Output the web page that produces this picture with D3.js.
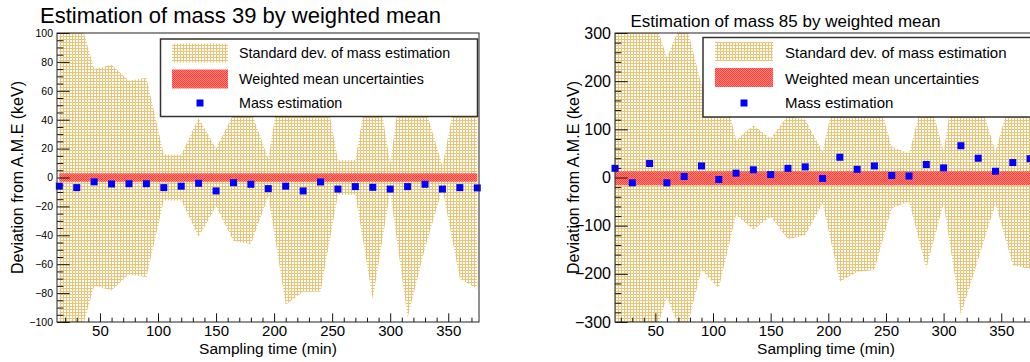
<!DOCTYPE html>
<html><head><meta charset="utf-8">
<script src="https://cdn.jsdelivr.net/npm/d3@7"></script>
<style>
html,body{margin:0;padding:0;background:#fff;}
svg{display:block;font-family:"Liberation Sans",Arial,Helvetica,sans-serif;}
</style></head><body>
<svg id="chart" width="1030" height="362"></svg>
<script>
// ---------- data ----------
const times = [15,30,45,60,75,90,105,120,135,150,165,180,195,210,225,240,255,270,285,300,315,330,345,360,375];

// mass 39 (keV)
const stdDev39 = [130,118,75,78,67,69,16,16,41,20,44,46,13,88,79,79,12,12,84,10,97,49,8,70,77];
const mass39   = [-6,-7,-3,-4.5,-4.3,-4.3,-7,-6,-4,-9.3,-3.6,-4.7,-7.7,-6,-9.3,-3.1,-8,-6.3,-6.8,-8,-6.3,-4.7,-8,-7,-7.2];
const wmUnc39  = [-3, 3];

// mass 85 (keV)
const stdDev85 = [400,380,360,249,335,192,230,78,108,81,128,120,54,216,196,192,64,50,189,54,285,170,54,182,190];
const mass85   = [19,-11,29,-11,2,24,-4,9,16,6,19,22,-2,42,17,24,4,3,27,20,66,40,13,31,39];
const wmUnc85  = [-16, 13];

const xTicksMajor = [50,100,150,200,250,300,350];
const yTicks39 = [-100,-80,-60,-40,-20,0,20,40,60,80,100];
const yTicks85 = [-300,-200,-100,0,100,200,300];

const titles = ["Estimation of mass 39 by weighted mean", "Estimation of mass 85 by weighted mean"];
const legendLabels = ["Standard dev. of mass estimation", "Weighted mean uncertainties", "Mass estimation"];
const xTitle = "Sampling time (min)";
const yTitle = "Deviation from A.M.E (keV)";

// ---------- drawing ----------
const svg = d3.select("#chart");
const defs = svg.append("defs");

const pt = defs.append("pattern").attr("id","tan").attr("patternUnits","userSpaceOnUse").attr("width",3).attr("height",3);
pt.append("rect").attr("width",3).attr("height",3).attr("fill","#e6c47a");
pt.append("rect").attr("x",1).attr("y",1).attr("width",2).attr("height",2).attr("fill","#fffdf6");

const pr = defs.append("pattern").attr("id","red").attr("patternUnits","userSpaceOnUse").attr("width",2).attr("height",2);
pr.append("rect").attr("width",2).attr("height",2).attr("fill","#ff857c");
pr.append("rect").attr("width",1).attr("height",1).attr("fill","#ff4038");
pr.append("rect").attr("x",1).attr("y",1).attr("width",1).attr("height",1).attr("fill","#ff4038");

const panels = [
  {id:"a", std:stdDev39, mass:mass39, wm:wmUnc39, yTicks:yTicks39, yDomain:[-100,100], yMinorStep:5,
   xDomain:[13,376.5], left:57, right:479, top:33, bottom:322, yLabelSize:10.5,
   title:titles[0], titleX:240.5, titleY:23, titleSize:22,
   legend:{x:160.5, y:39, w:317, h:77.5, sx:172, sw:56, tx:239, fs:14.3}, yTitleX:23},
  {id:"b", std:stdDev85, mass:mass85, wm:wmUnc85, yTicks:yTicks85, yDomain:[-300,300], yMinorStep:20,
   xDomain:[15,381], left:615, right:1037, top:33, bottom:322, yLabelSize:16,
   title:titles[1], titleX:785.5, titleY:27, titleSize:17,
   legend:{x:703, y:37.5, w:340, h:79.5, sx:715, sw:58, tx:785, fs:15}, yTitleX:579}
];

function drawPanel(p){
  const x = d3.scaleLinear().domain(p.xDomain).range([p.left,p.right]);
  const y = d3.scaleLinear().domain(p.yDomain).range([p.bottom,p.top]);
  const g = svg.append("g");
  const clipId = "clip"+p.id;
  defs.append("clipPath").attr("id",clipId).append("rect")
    .attr("x",p.left).attr("y",p.top).attr("width",p.right-p.left).attr("height",p.bottom-p.top);

  const rows = times.map((t,i)=>({t, s:p.std[i], m:p.mass[i]}));
  const plot = g.append("g").attr("clip-path",`url(#${clipId})`);
  plot.append("path").datum(rows)
    .attr("d", d3.area().x(d=>x(d.t)).y0(d=>y(-d.s)).y1(d=>y(d.s)))
    .attr("fill","url(#tan)");
  plot.append("path").datum(rows)
    .attr("d", d3.area().x(d=>x(d.t)).y0(()=>y(p.wm[0])).y1(()=>y(p.wm[1])))
    .attr("fill","url(#red)");

  // axes (ticks inside)
  const W = p.right-p.left, H = p.bottom-p.top;
  const xMinor = d3.range(20, p.xDomain[1], 10).filter(v=>v%50!==0 && v>=p.xDomain[0]);
  const ax = g.append("g").attr("transform",`translate(0,${p.bottom})`)
    .call(d3.axisBottom(x).tickValues(xTicksMajor).tickSizeInner(-0.03*H).tickSizeOuter(0).tickPadding(3.3));
  g.append("g").attr("transform",`translate(0,${p.bottom})`)
    .call(d3.axisBottom(x).tickValues(xMinor).tickSizeInner(-0.015*H).tickSizeOuter(0).tickFormat(""));
  const yStep = p.yTicks[1]-p.yTicks[0];
  const yMinor = d3.range(p.yDomain[0], p.yDomain[1]+0.001, p.yMinorStep).filter(v=>Math.abs(v%yStep)>1e-9);
  const ay = g.append("g").attr("transform",`translate(${p.left},0)`)
    .call(d3.axisLeft(y).tickValues(p.yTicks).tickSizeInner(-0.03*W).tickSizeOuter(0).tickPadding(4));
  g.append("g").attr("transform",`translate(${p.left},0)`)
    .call(d3.axisLeft(y).tickValues(yMinor).tickSizeInner(-0.015*W).tickSizeOuter(0).tickFormat(""));
  g.selectAll(".domain").remove();
  g.selectAll(".tick line").attr("stroke","#111").attr("stroke-width",1);
  ax.selectAll("text").attr("font-size",15).attr("fill","#000").attr("font-family","Liberation Sans, Arial, sans-serif");
  ay.selectAll("text").attr("font-size",p.yLabelSize).attr("fill","#000").attr("font-family","Liberation Sans, Arial, sans-serif");

  // points
  g.append("g").selectAll("rect").data(rows).join("rect")
    .attr("x",d=>x(d.t)-3.5).attr("y",d=>y(d.m)-3.5).attr("width",7).attr("height",7).attr("fill","#0000ff");

  // frame
  g.append("rect").attr("x",p.left).attr("y",p.top).attr("width",W).attr("height",H)
    .attr("fill","none").attr("stroke","#222").attr("stroke-width",1);

  // titles
  g.append("text").attr("x",p.titleX).attr("y",p.titleY).attr("text-anchor","middle")
    .attr("font-size",p.titleSize).attr("fill","#000").text(p.title);
  g.append("text").attr("x",(p.left+p.right)/2).attr("y",354).attr("text-anchor","middle")
    .attr("font-size",15.5).attr("fill","#000").text(xTitle);
  g.append("text").attr("transform",`translate(${p.yTitleX},${(p.top+p.bottom)/2}) rotate(-90)`)
    .attr("text-anchor","middle").attr("font-size",16).attr("fill","#000").text(yTitle);

  // legend
  const L = p.legend;
  const lg = g.append("g");
  lg.append("rect").attr("x",L.x).attr("y",L.y).attr("width",L.w).attr("height",L.h)
    .attr("fill","#fff").attr("stroke","#333").attr("stroke-width",1.5);
  lg.append("rect").attr("x",L.sx).attr("y",L.y+4.5).attr("width",L.sw).attr("height",19).attr("fill","url(#tan)");
  lg.append("rect").attr("x",L.sx).attr("y",L.y+30.5).attr("width",L.sw).attr("height",19).attr("fill","url(#red)");
  lg.append("rect").attr("x",L.sx+L.sw/2-3.5).attr("y",103-3.5).attr("width",7).attr("height",7).attr("fill","#0000ff");
  const baselines = [57.5,83.5,108];
  legendLabels.forEach((t,i)=>{
    lg.append("text").attr("x",L.tx).attr("y",baselines[i]).attr("font-size",L.fs).attr("fill","#000").text(t);
  });
}
panels.forEach(drawPanel);
</script>
</body></html>
